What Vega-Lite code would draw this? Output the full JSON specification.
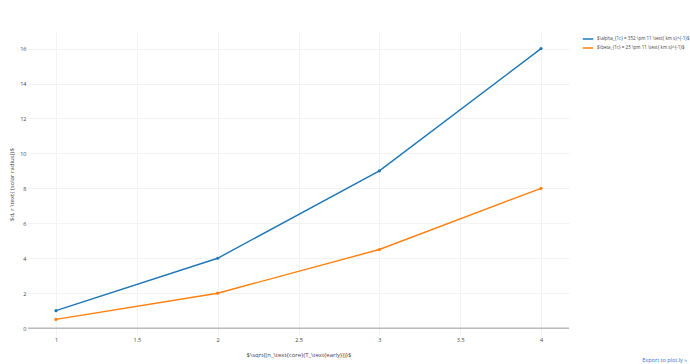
{
  "$schema": "https://vega.github.io/schema/vega-lite/v6.json",
  "width": 541,
  "height": 304,
  "autosize": {"type": "none"},
  "padding": {"left": 28, "top": 32, "right": 121, "bottom": 28},
  "background": "white",
  "title": {
    "text": "Export to plot.ly »",
    "orient": "bottom",
    "anchor": "end",
    "frame": "group",
    "dx": 118,
    "offset": 0,
    "fontSize": 5.5,
    "fontWeight": "normal",
    "color": "#2f6fe0",
    "font": "Open Sans"
  },
  "config": {
    "font": "Open Sans",
    "view": {"stroke": null},
    "axis": {
      "labelFont": "Open Sans",
      "titleFont": "Open Sans",
      "labelFontSize": 5.5,
      "titleFontSize": 6,
      "titleFontWeight": "normal",
      "labelColor": "#444",
      "titleColor": "#444",
      "ticks": false,
      "domain": false,
      "labelOverlap": false,
      "gridColor": "#f3f3f3",
      "gridWidth": 1
    },
    "legend": {
      "labelFont": "Open Sans",
      "labelFontSize": 4.5,
      "labelColor": "#444"
    }
  },
  "datasets": {
    "main": [
      {"x": 1, "y": 1, "series": "$\\alpha_{1c} = 352 \\pm 11 \\text{ km s}^{-1}$"},
      {"x": 2, "y": 4, "series": "$\\alpha_{1c} = 352 \\pm 11 \\text{ km s}^{-1}$"},
      {"x": 3, "y": 9, "series": "$\\alpha_{1c} = 352 \\pm 11 \\text{ km s}^{-1}$"},
      {"x": 4, "y": 16, "series": "$\\alpha_{1c} = 352 \\pm 11 \\text{ km s}^{-1}$"},
      {"x": 1, "y": 0.5, "series": "$\\beta_{1c} = 25 \\pm 11 \\text{ km s}^{-1}$"},
      {"x": 2, "y": 2, "series": "$\\beta_{1c} = 25 \\pm 11 \\text{ km s}^{-1}$"},
      {"x": 3, "y": 4.5, "series": "$\\beta_{1c} = 25 \\pm 11 \\text{ km s}^{-1}$"},
      {"x": 4, "y": 8, "series": "$\\beta_{1c} = 25 \\pm 11 \\text{ km s}^{-1}$"}
    ],
    "zero": [{"y": 0}]
  },
  "layer": [
    {
      "data": {"name": "zero"},
      "mark": {"type": "rule", "color": "#999999", "strokeWidth": 1},
      "encoding": {
        "y": {
          "field": "y",
          "type": "quantitative",
          "scale": {"domain": [-0.45, 16.95], "nice": false, "zero": false},
          "axis": {
            "values": [0, 2, 4, 6, 8, 10, 12, 14, 16],
            "format": "~g",
            "labelPadding": 2,
            "titlePadding": 5,
            "title": "$d, r \\text{ (solar radius)}$"
          }
        }
      }
    },
    {
      "data": {"name": "main"},
      "mark": {"type": "line", "strokeWidth": 1.4, "point": {"size": 10, "filled": true}},
      "encoding": {
        "x": {
          "field": "x",
          "type": "quantitative",
          "scale": {"domain": [0.827, 4.173], "nice": false, "zero": false},
          "axis": {
            "values": [1, 1.5, 2, 2.5, 3, 3.5, 4],
            "format": "~g",
            "labelPadding": 1,
            "titlePadding": 9,
            "title": "$\\sqrt{(n_\\text{core}(T_\\text{early}))}$"
          }
        },
        "y": {
          "field": "y",
          "type": "quantitative",
          "scale": {"domain": [-0.45, 16.95], "nice": false, "zero": false},
          "axis": {
            "values": [0, 2, 4, 6, 8, 10, 12, 14, 16],
            "format": "~g",
            "labelPadding": 2,
            "titlePadding": 5,
            "title": "$d, r \\text{ (solar radius)}$"
          }
        },
        "color": {
          "field": "series",
          "type": "nominal",
          "scale": {
            "domain": ["$\\alpha_{1c} = 352 \\pm 11 \\text{ km s}^{-1}$", "$\\beta_{1c} = 25 \\pm 11 \\text{ km s}^{-1}$"],
            "range": ["#1f77b4", "#ff7f0e"]
          },
          "legend": {
            "title": null,
            "orient": "none",
            "legendX": 554,
            "legendY": 1,
            "padding": 0,
            "symbolType": "stroke",
            "symbolSize": 110,
            "symbolStrokeWidth": 1.5,
            "rowPadding": 0,
            "labelOffset": 3,
            "labelLimit": 200
          }
        }
      }
    }
  ]
}
